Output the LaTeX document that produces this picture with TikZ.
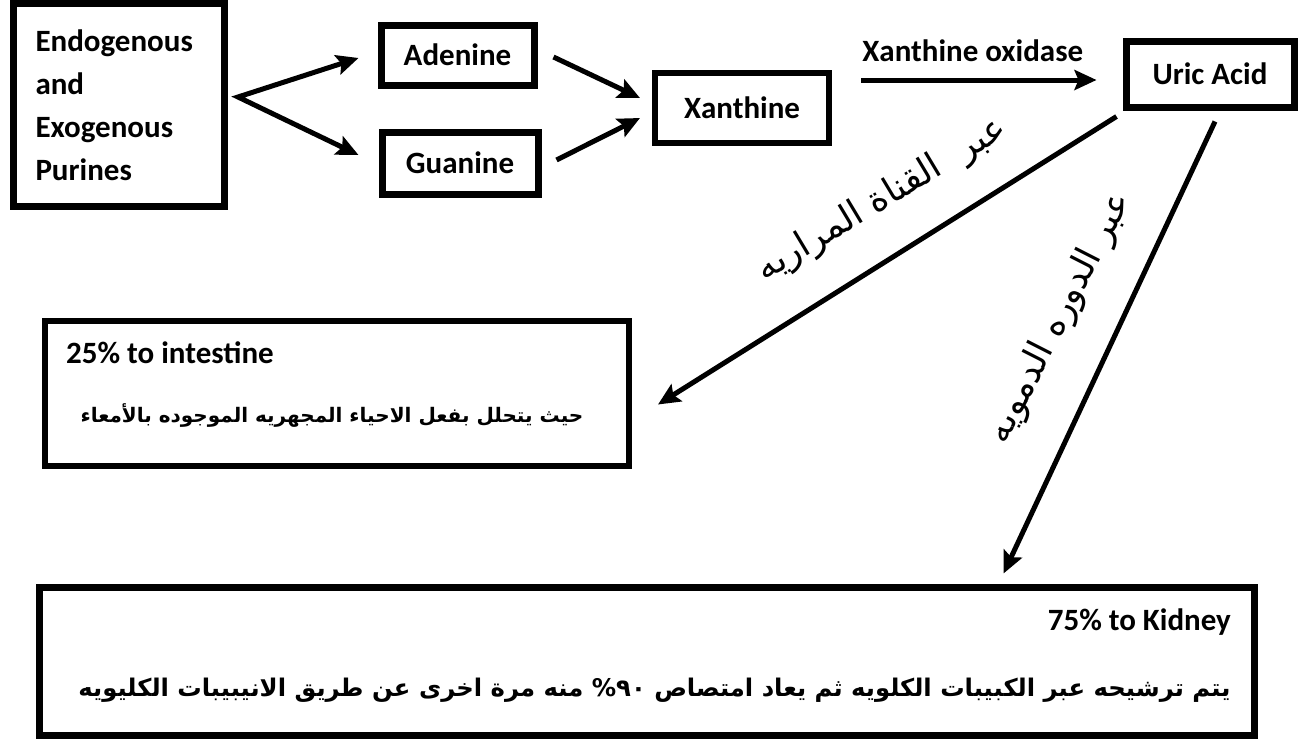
\documentclass[tikz,border=0pt]{standalone}
\usepackage{fontspec}
\setmainfont{Carlito}
\newfontfamily\arabicfont[Script=Arabic]{DejaVu Sans}
\TeXXeTstate=1
\usetikzlibrary{arrows.meta,calc}
\begin{document}
\begin{tikzpicture}[x=1pt,y=-1pt,
  box/.style={draw, line width=7pt, inner sep=0pt},
  entext/.style={font=\fontsize{31}{43}\selectfont\bfseries, inner sep=0pt},
  artext/.style={font=\arabicfont\fontsize{20}{26}\selectfont\bfseries, inner sep=0pt},
  arlabel/.style={font=\arabicfont\fontsize{36}{40}\selectfont, inner sep=0pt},
  bigtip/.tip={Stealth[length=22pt,width=20pt,inset=4pt]},
  arr/.style={line width=5pt, -{bigtip}}]
\useasboundingbox (0,0) rectangle (1308,740);
% boxes
\node[box, minimum width=211pt, minimum height=203pt, entext, align=left, text width=166pt] (endo) at (118.5,105)
  {Endogenous\\and\\Exogenous\\Purines};
\node[box, minimum width=153pt, minimum height=60pt, entext] (adenine) at (457.5,55) {Adenine};
\node[box, minimum width=156pt, minimum height=62pt, entext] (guanine) at (460,163) {Guanine};
\node[box, line width=6pt, minimum width=174pt, minimum height=70pt, entext] (xanthine) at (742,108) {Xanthine};
\node[box, minimum width=168pt, minimum height=66pt, entext] (uric) at (1210,74) {Uric Acid};
\node[box, line width=6pt, minimum width=584pt, minimum height=145pt] (intestine) at (337,393.5) {};
\node[box, minimum width=1215pt, minimum height=148pt] (kidney) at (646.5,661) {};
% box texts
\node[entext, anchor=west] (inttitle) at (66,353) {25\% to intestine};
\node[artext] (inttext) at (332,415) {\beginR حيث يتحلل بفعل الاحياء المجهريه الموجوده بالأمعاء\endR};
\node[entext, anchor=east] (kidtitle) at (1231,622) {75\% to Kidney};
\node[artext, font=\arabicfont\fontsize{24.3}{28}\selectfont\bfseries, anchor=east] (kidtext) at (1231,690) {\beginR يتم ترشيحه عبر الكبيبات الكلويه ثم يعاد امتصاص \beginL ٩٠\endL{}\% منه مرة اخرى عن طريق الانيبيبات الكليويه\endR};
% connectors
\coordinate (fork) at (238,97);
\draw[line width=5pt, miter limit=10, {bigtip}-{bigtip}]
  ([shift={(-19,3)}]adenine.west) -- (fork) -- ([shift={(-20,-8)}]guanine.west);
\draw[arr] ([shift={(16,2)}]adenine.east) -- ([shift={(-12,-10)}]xanthine.west);
\draw[arr] ([shift={(15,-3)}]guanine.east) -- ([shift={(-12,10)}]xanthine.west);
\draw[arr] ([shift={(29,-28)}]xanthine.east) -- node[entext, above=16pt, xshift=-6pt] (xo) {Xanthine oxidase} ([shift={(-26,6)}]uric.west);
\draw[arr] ([shift={(-6,6)}]uric.south west) -- ([shift={(26,11)}]intestine.east);
\draw[arr] ([shift={(5,11)}]uric.south) -- ([shift={(-254,-10)}]kidney.north east);
% rotated labels
\node[arlabel, rotate=31] (bile) at (882,200) {\beginR عبر \ القناة المراريه\endR};
\node[arlabel, rotate=63] (blood) at (1060,318) {\beginR عبر الدوره الدمويه\endR};
\end{tikzpicture}
\end{document}
